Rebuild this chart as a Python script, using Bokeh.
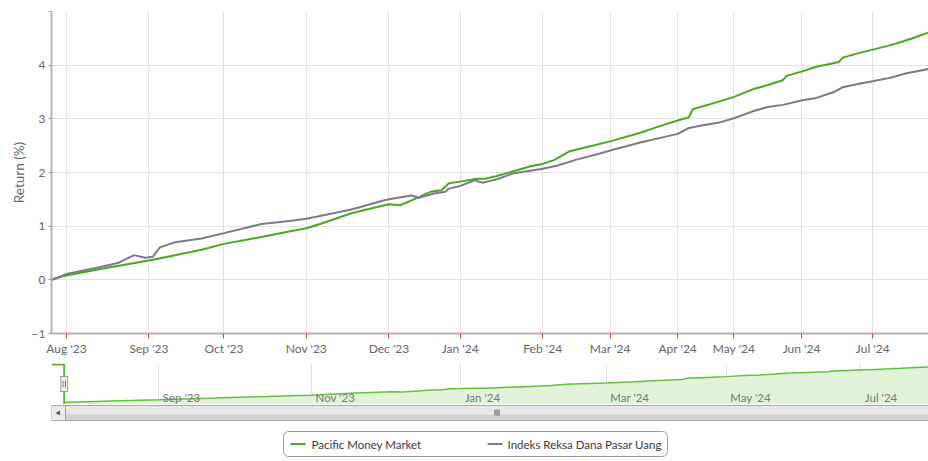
import math
from bokeh.plotting import figure
from bokeh.layouts import column
from bokeh.models import Range1d, FixedTicker, Grid
from bokeh.core.properties import value
from bokeh.embed import file_html
from bokeh.resources import INLINE

# ---- data (x = trading-day number since the first NAV date) ----
month_labels = ["Aug '23", "Sep '23", "Oct '23", "Nov '23", "Dec '23", "Jan '24",
                "Feb '24", "Mar '24", "Apr '24", "May '24", "Jun '24", "Jul '24"]
month_day = [4, 26, 46, 68, 90, 109, 131, 149, 167, 182, 200, 219]

y_ticks = [-1, 0, 1, 2, 3, 4, 5]

days_p = [0, 1, 4, 13, 26, 33, 40, 46, 56, 64, 68, 72, 80, 84, 90, 93, 98, 101, 104, 106,
          109, 113, 116, 119, 123, 128, 131, 134, 138, 142, 149, 157, 162, 167, 170, 171,
          173, 178, 182, 187, 191, 195, 196, 200, 204, 210, 211, 215, 219, 223, 227, 230,
          234, 238]
pacific = [0.00, 0.03, 0.08, 0.20, 0.36, 0.46, 0.56, 0.67, 0.80, 0.91, 0.96, 1.05, 1.24, 1.31,
           1.41, 1.39, 1.54, 1.64, 1.67, 1.80, 1.83, 1.88, 1.89, 1.94, 2.02, 2.12, 2.16, 2.23,
           2.39, 2.46, 2.58, 2.74, 2.86, 2.97, 3.03, 3.18, 3.22, 3.32, 3.41, 3.55, 3.63, 3.72,
           3.80, 3.88, 3.97, 4.06, 4.14, 4.22, 4.29, 4.36, 4.44, 4.51, 4.61, 4.68]

days_i = [0, 1, 4, 13, 18, 22, 25, 27, 29, 33, 40, 46, 56, 64, 68, 80, 88, 90, 96, 98,
          102, 105, 106, 109, 113, 114, 115, 119, 123, 131, 135, 140, 146, 149, 157, 167,
          170, 173, 178, 182, 187, 191, 195, 200, 204, 209, 211, 215, 219, 224, 228, 234]
indeks = [0.00, 0.02, 0.11, 0.24, 0.32, 0.46, 0.41, 0.43, 0.61, 0.70, 0.77, 0.87, 1.04, 1.10,
          1.14, 1.31, 1.47, 1.50, 1.57, 1.53, 1.61, 1.64, 1.70, 1.75, 1.86, 1.83, 1.81, 1.88,
          1.98, 2.07, 2.13, 2.24, 2.35, 2.41, 2.56, 2.72, 2.83, 2.87, 2.93, 3.01, 3.14, 3.22,
          3.26, 3.34, 3.39, 3.51, 3.59, 3.65, 3.70, 3.77, 3.85, 3.93]

series_names = ["Pacific Money Market", "Indeks Reksa Dana Pasar Uang"]

# ---- style / layout ----
GREEN = "#47a91f"
GREY = "#7a7a8b"
NAV_GREEN = "#62c03c"
FONT = "Lato"
W = 928
LEFT = 51

# ---- main chart ----
p = figure(width=W, height=358, x_range=Range1d(0, 233.87), y_range=Range1d(-1, 5),
           output_backend="svg", toolbar_location=None,
           min_border_left=LEFT, min_border_right=0, min_border_top=11, min_border_bottom=23)
p.line(days_p, pacific, line_color=GREEN, line_width=2)
p.line(days_i, indeks, line_color=GREY, line_width=2)

p.xaxis.ticker = FixedTicker(ticks=month_day)
p.xaxis.major_label_overrides = {d: l for d, l in zip(month_day, month_labels)}
p.yaxis.ticker = FixedTicker(ticks=y_ticks)
p.yaxis.major_label_overrides = {-1: "\u22121", 5: ""}

for ax in (p.xaxis[0], p.yaxis[0]):
    ax.axis_line_color = "#b3b3b3"
    ax.axis_line_width = 2
    ax.minor_tick_line_color = None
    ax.major_tick_in = 0
    ax.major_label_text_font = FONT
    ax.major_label_text_color = "#666666"
p.xaxis.major_tick_line_color = "#e04040"
p.xaxis.major_tick_out = 5
p.xaxis.major_label_standoff = 2
p.xaxis.major_label_text_font_size = "12px"
p.yaxis.major_tick_line_color = "#999999"
p.yaxis.major_tick_out = 3
p.yaxis.major_label_standoff = 3
p.yaxis.major_label_text_font_size = "12px"
p.yaxis.axis_label = "Return (%)"
p.yaxis.axis_label_text_font = FONT
p.yaxis.axis_label_text_font_style = "normal"
p.yaxis.axis_label_text_font_size = "13.5px"
p.yaxis.axis_label_text_color = "#666666"
p.yaxis.axis_label_standoff = 2
p.xgrid.grid_line_color = "#e1e1e1"
p.ygrid.grid_line_color = "#e1e1e1"
p.outline_line_color = None

# ---- navigator ----
NAV_H = 41
nav = figure(width=W, height=NAV_H + 5, x_range=Range1d(-3.49, 237.6),
             y_range=Range1d(-0.264, 5.14), x_axis_type=None, y_axis_type=None,
             output_backend="svg", toolbar_location=None,
             min_border_left=LEFT, min_border_right=0, min_border_top=5, min_border_bottom=0)
nav.outline_line_color = None
nav_ticks = month_day[1::2]
nav_labels = month_labels[1::2]
nav.add_layout(Grid(dimension=0, ticker=FixedTicker(ticks=nav_ticks), grid_line_color="#e1e1e1"))
y0, y1 = nav.y_range.start, nav.y_range.end
x0, x1 = nav.x_range.start, nav.x_range.end
upp_y = (y1 - y0) / NAV_H
upp_x = (x1 - x0) / (W - LEFT)
nav.varea(x=days_p, y1=y0, y2=pacific, fill_color="#e2f3da")
nav.line(days_p, pacific, line_color=NAV_GREEN, line_width=1.5)
nav.text(x=nav_ticks, y=[y0] * len(nav_ticks), text=nav_labels, x_offset=4, y_offset=-7,
         text_baseline="middle", text_font=value(FONT), text_font_size="11.5px",
         text_color="#777777")
top = y1 - upp_y
nav.line(x=[x0, days_p[0], days_p[0]], y=[top, top, y0], line_color="#5ab534", line_width=2)
mid = (y0 + y1) / 2
nav.rect(x=[days_p[0]], y=[mid], width=7, height=15, width_units="screen",
         height_units="screen", fill_color="#f2f2f2", line_color="#999999")
nav.segment(x0=[days_p[0] - 1.2 * upp_x, days_p[0] + 1.2 * upp_x],
            y0=[mid - 3.5 * upp_y] * 2,
            x1=[days_p[0] - 1.2 * upp_x, days_p[0] + 1.2 * upp_x],
            y1=[mid + 3.5 * upp_y] * 2, line_color="#777777", line_width=1)

# ---- scrollbar + legend (page-pixel coordinates) ----
D_TOP, D_BOT = 404, 461
deco = figure(width=W, height=D_BOT - D_TOP, x_range=Range1d(LEFT, W),
              y_range=Range1d(D_BOT, D_TOP), x_axis_type=None, y_axis_type=None,
              output_backend="svg", toolbar_location=None,
              min_border_left=LEFT, min_border_right=0, min_border_top=0, min_border_bottom=0)
deco.outline_line_color = None
BTN = 14
SB_T, SB_B = 405, 420
deco.quad(left=[LEFT + BTN], right=[W + 14], top=[SB_T], bottom=[SB_B],
          fill_color="#e8e8e8", line_color="#a8a8a8")
deco.quad(left=[LEFT + BTN + 0.5], right=[W + 14], top=[SB_T + 9], bottom=[SB_B - 0.5],
          fill_color="#d3d3d3", line_color=None)
deco.quad(left=[LEFT], right=[LEFT + BTN], top=[SB_T], bottom=[SB_B],
          fill_color="#ebebeb", line_color="#a8a8a8")
deco.scatter(x=[LEFT + BTN / 2], y=[(SB_T + SB_B) / 2], marker="triangle", size=5,
             angle=math.pi / 2, fill_color="#555555", line_color=None)
gc = (LEFT + BTN + W) / 2
deco.segment(x0=[gc - 2, gc, gc + 2], y0=[SB_T + 4] * 3, x1=[gc - 2, gc, gc + 2],
             y1=[SB_T + 10] * 3, line_color="#555555", line_width=1)

LG_L, LG_R, LG_T, LG_B = 283, 667, 431, 456
lc = (LG_T + LG_B) / 2
deco.quad(left=[LG_L], right=[LG_R], top=[LG_T], bottom=[LG_B], fill_color="white",
          line_color="#9a9a9a", border_radius=5)
deco.segment(x0=[LG_L + 7], y0=[lc], x1=[LG_L + 22], y1=[lc], line_color=GREEN, line_width=2)
deco.segment(x0=[LG_L + 204], y0=[lc], x1=[LG_L + 219], y1=[lc], line_color=GREY, line_width=2)
deco.text(x=[LG_L + 28, LG_L + 224], y=[lc, lc], text=series_names, text_baseline="middle",
          text_font=value(FONT), text_font_size="11.5px", text_color="#3a3a3a")

layout = column(p, nav, deco)
open("out.html", "w").write(file_html(layout, INLINE))
